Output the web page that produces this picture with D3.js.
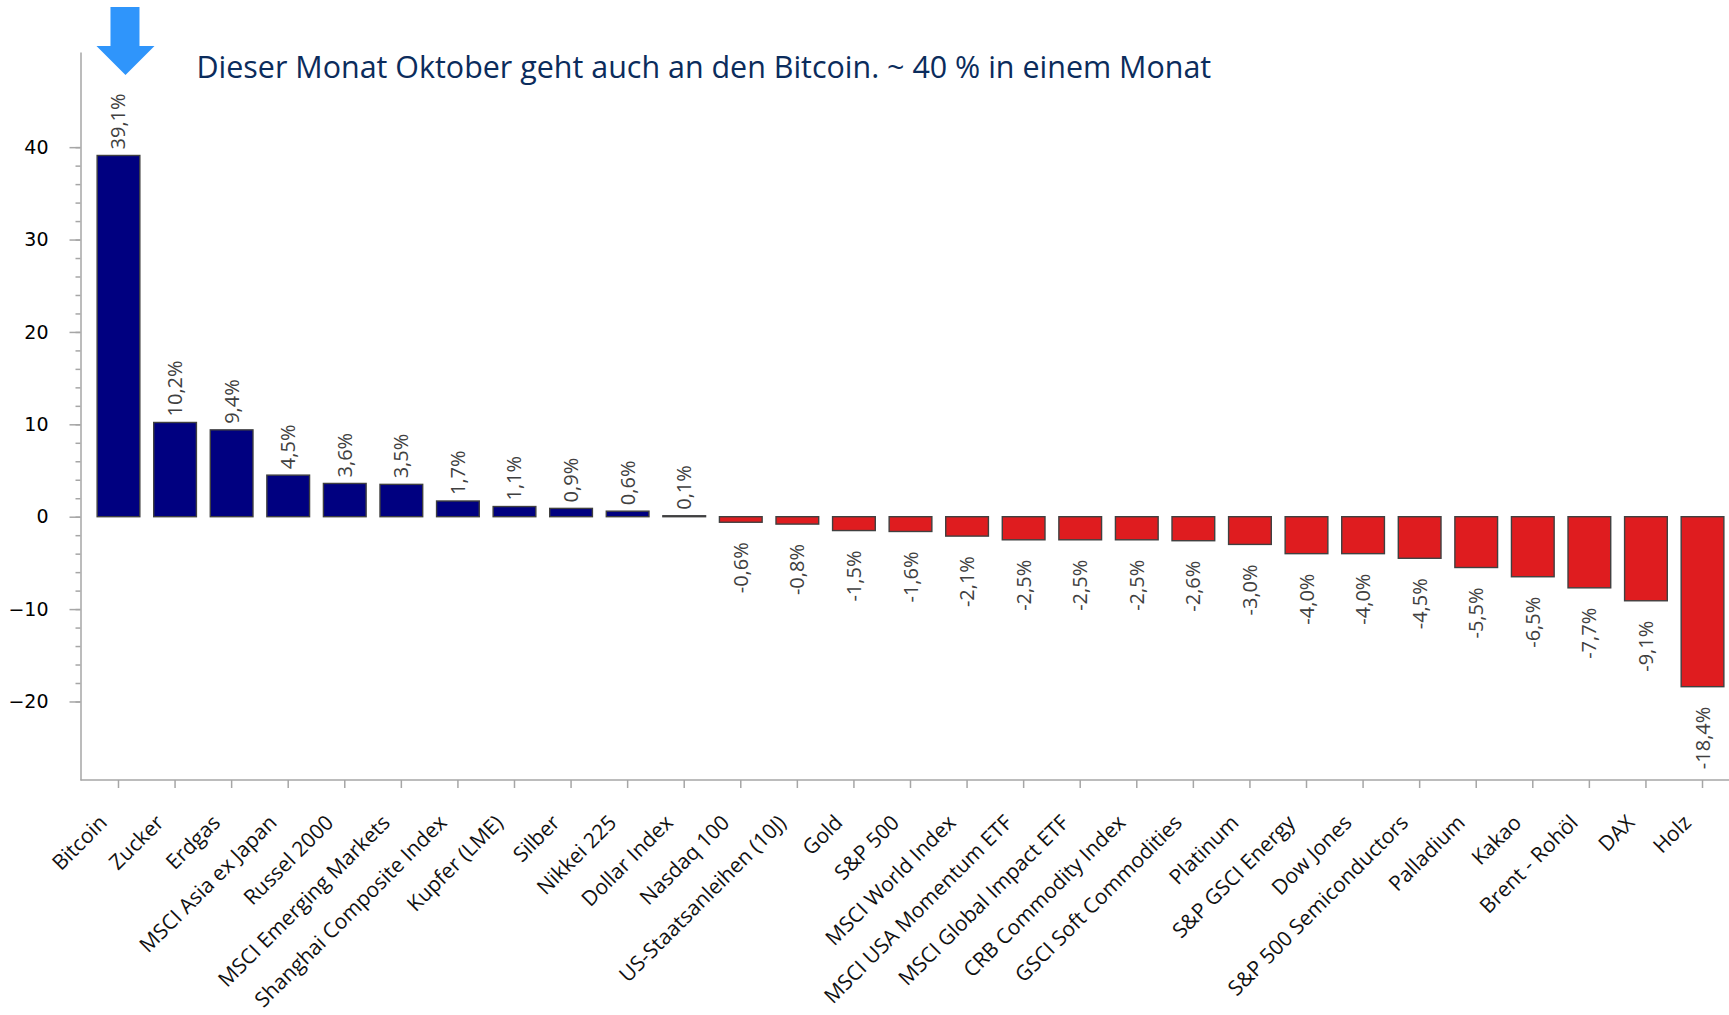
<!DOCTYPE html>
<html>
<head>
<meta charset="utf-8">
<script src="https://cdn.jsdelivr.net/npm/d3@7"></script>
<style>
  html, body { margin: 0; padding: 0; background: #fff; }
  svg { display: block; }
</style>
</head>
<body>
<div id="chart"></div>
<script>
const categories = ["Bitcoin", "Zucker", "Erdgas", "MSCI Asia ex Japan", "Russel 2000",
  "MSCI Emerging Markets", "Shanghai Composite Index", "Kupfer (LME)", "Silber", "Nikkei 225",
  "Dollar Index", "Nasdaq 100", "US-Staatsanleihen (10J)", "Gold", "S&P 500", "MSCI World Index",
  "MSCI USA Momentum ETF", "MSCI Global Impact ETF", "CRB Commodity Index", "GSCI Soft Commodities",
  "Platinum", "S&P GSCI Energy", "Dow Jones", "S&P 500 Semiconductors", "Palladium", "Kakao",
  "Brent - Rohöl", "DAX", "Holz"];
const values = [39.1, 10.2, 9.4, 4.5, 3.6, 3.5, 1.7, 1.1, 0.9, 0.6, 0.1, -0.6, -0.8, -1.5, -1.6,
  -2.1, -2.5, -2.5, -2.5, -2.6, -3.0, -4.0, -4.0, -4.5, -5.5, -6.5, -7.7, -9.1, -18.4];
const yTicks = [-20, -10, 0, 10, 20, 30, 40];
const title = "Dieser Monat Oktober geht auch an den Bitcoin. ~ 40 % in einem Monat";

let width = 1729,
    height = 1015,
    margin = ({ top: 52, right: 0, bottom: 235, left: 80.5 });

const data = categories.map((c, i) => ({ name: c, value: values[i] }));

const svg = d3.select("#chart")
  .append("svg")
  .attr("width", width)
  .attr("height", height)
  .attr("viewBox", [0, 0, width, height]);

const x = d3.scaleBand()
  .domain(categories)
  .range([90.2, 1730.8])
  .paddingInner(0.245)
  .paddingOuter(0.1225);

const y = d3.scaleLinear()
  .domain([-28.5, 50.3])
  .range([height - margin.bottom, margin.top]);

const axisColor = "#a6a6a6";

// y axis, minor ticks first
svg.append("g")
  .attr("transform", `translate(${margin.left},0)`)
  .call(d3.axisLeft(y).tickValues(d3.range(-20, 41, 2)).tickSize(5).tickSizeOuter(0).tickFormat(""))
  .call(g => g.selectAll("line").attr("stroke", axisColor).attr("stroke-width", 1.5))
  .call(g => g.select(".domain").remove());

svg.append("g")
  .attr("transform", `translate(${margin.left},0)`)
  .call(d3.axisLeft(y).tickValues(yTicks).tickSize(11).tickSizeOuter(0).tickPadding(21))
  .call(g => g.select(".domain").attr("stroke", axisColor).attr("stroke-width", 1.5))
  .call(g => g.selectAll("line").attr("stroke", axisColor).attr("stroke-width", 1.5))
  .call(g => g.selectAll("text")
    .attr("fill", "#000")
    .style("font-family", "'DejaVu Sans', Verdana, sans-serif")
    .style("font-size", "19px"));

// x axis
const xAxis = svg.append("g")
  .attr("transform", `translate(0,${height - margin.bottom})`)
  .call(d3.axisBottom(x).tickSize(8).tickSizeOuter(0));

xAxis.select(".domain").remove();
xAxis.selectAll("line").attr("stroke", axisColor).attr("stroke-width", 1.5);
xAxis.selectAll("text")
  .attr("y", 0)
  .attr("dy", 0)
  .attr("transform", "translate(-10,44) rotate(-45)")
  .attr("text-anchor", "end")
  .attr("fill", "#111")
  .style("font-family", "'Open Sans', sans-serif")
  .style("font-size", "21px");

xAxis.append("line")
  .attr("x1", margin.left)
  .attr("x2", width)
  .attr("stroke", axisColor)
  .attr("stroke-width", 1.5);

// bars
svg.append("g")
  .selectAll("rect")
  .data(data)
  .join("rect")
    .attr("x", d => x(d.name))
    .attr("width", x.bandwidth())
    .attr("y", d => y(Math.max(0, d.value)))
    .attr("height", d => Math.abs(y(d.value) - y(0)))
    .attr("fill", d => d.value >= 0 ? "#000080" : "#df1c1f")
    .attr("stroke", "#404040")
    .attr("stroke-width", 1.4);

// value labels
const fmt = v => v.toFixed(1).replace(".", ",") + "%";

svg.append("g")
  .selectAll("text")
  .data(data)
  .join("text")
    .attr("transform", d => {
      let cx = x(d.name) + x.bandwidth() / 2;
      let ty = d.value >= 0 ? y(d.value) - 6 : y(d.value) + 20;
      return `translate(${cx},${ty}) rotate(-90)`;
    })
    .attr("dy", "0.35em")
    .attr("text-anchor", d => d.value >= 0 ? "start" : "end")
    .attr("fill", "#404040")
    .style("font-family", "'Open Sans', sans-serif")
    .style("font-size", "20px")
    .text(d => fmt(d.value));

// arrow pointing at Bitcoin
const ax = x(categories[0]) + x.bandwidth() / 2 + 7;
svg.append("path")
  .attr("d", `M${ax - 15},7 H${ax + 14} V46 H${ax + 29} L${ax},75 L${ax - 29},46 H${ax - 15} Z`)
  .attr("fill", "#2f95fb");

// title
const t = svg.append("text")
  .attr("x", 196.5)
  .attr("y", 78)
  .attr("fill", "#0b2c5c")
  .style("font-family", "'Open Sans', sans-serif")
  .style("font-size", "28px")
  .text(title);
const len = t.node().getComputedTextLength();
t.style("font-size", (28 * 1015 / len) + "px");
</script>
</body>
</html>
